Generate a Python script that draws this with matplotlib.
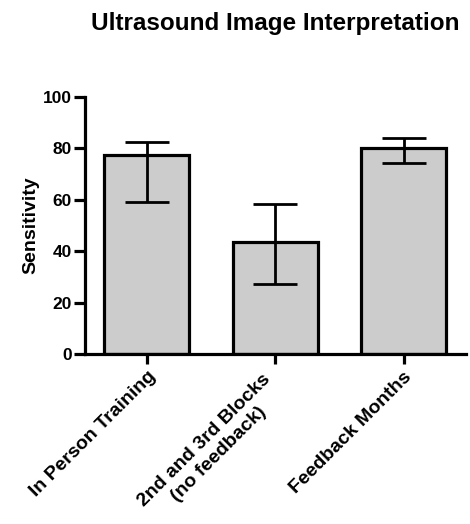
import matplotlib
matplotlib.use("Agg")
import matplotlib.pyplot as plt
from matplotlib.transforms import ScaledTranslation
import numpy as np

plt.rcParams['font.family'] = ['Liberation Sans', 'DejaVu Sans']

categories = ["In Person Training", "2nd and 3rd Blocks\n(no feedback)", "Feedback Months"]
values = [77.5, 43.8, 80.0]
err_low = [59.0, 27.2, 74.3]
err_high = [82.6, 58.5, 84.2]
yticks = [0, 20, 40, 60, 80, 100]

fig = plt.figure(figsize=(4.70, 5.24), dpi=100)
ax = fig.add_axes([0.180, 0.324, 0.811, 0.491])

x = np.arange(len(categories))
ax.bar(x, values, width=0.66, color="#cccccc", edgecolor="black", linewidth=2.3, zorder=2)
yerr = np.array([np.array(values) - np.array(err_low), np.array(err_high) - np.array(values)])
ax.errorbar(x, values, yerr=yerr, fmt='none', ecolor='black', elinewidth=2.0,
            capsize=16, capthick=2.0, zorder=3)

ax.set_xlim(-0.485, 2.485)
ax.set_ylim(0, 100)
ax.set_yticks(yticks)
ax.set_yticklabels([str(t) for t in yticks], fontsize=12.5, fontweight='bold')
ax.set_xticks(x)
ax.set_xticklabels([""] * len(categories))
ax.set_ylabel("Sensitivity", fontsize=14, fontweight='bold', labelpad=3)

# category labels, rotated, anchored at the tick; the two-line one sits a bit left
label_shift = [(0.0, 0.0), (-0.13, -0.03), (0.0, 0.0)]
base = ax.get_xaxis_transform() + ScaledTranslation(0, -10 / 72, fig.dpi_scale_trans)
for xi, cat, (dx, dy) in zip(x, categories, label_shift):
    ax.text(xi, 0, cat, transform=base + ScaledTranslation(dx, dy, fig.dpi_scale_trans),
            rotation=45, ha='right', va='top', rotation_mode='anchor',
            fontsize=14, fontweight='bold', multialignment='center', clip_on=False)

for s in ['top', 'right']:
    ax.spines[s].set_visible(False)
for s in ['left', 'bottom']:
    ax.spines[s].set_linewidth(2.3)
ax.tick_params(axis='y', width=2.3, length=8, pad=1)
ax.tick_params(axis='x', width=2.3, length=7, pad=3)

fig.text(0.585, 1 - 30 / 524, "Ultrasound Image Interpretation", ha='center', va='baseline',
         fontsize=17.5, fontweight='bold')

fig.savefig("out.png", dpi=100)
